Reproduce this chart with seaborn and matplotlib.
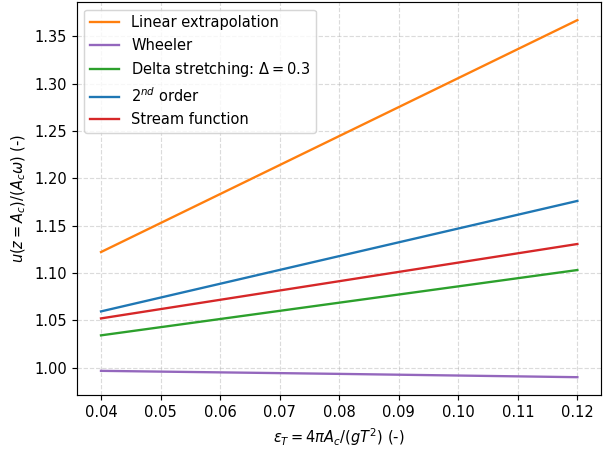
import matplotlib
matplotlib.use("Agg")
import matplotlib.pyplot as plt
import seaborn as sns
import pandas as pd

eps = [0.04, 0.08, 0.12]
linear_extrap = [1.122, 1.2445, 1.367]
wheeler = [0.9965, 0.9933, 0.9898]
delta_stretch = [1.034, 1.0685, 1.103]
second_order = [1.0593, 1.1177, 1.176]
stream_function = [1.0519, 1.0912, 1.1305]

labels = ["Linear extrapolation", "Wheeler", r"Delta stretching: $\Delta = 0.3$",
          r"2$^{nd}$ order", "Stream function"]
series = [linear_extrap, wheeler, delta_stretch, second_order, stream_function]
colors = ["#ff7f0e", "#9467bd", "#2ca02c", "#1f77b4", "#d62728"]

rows = []
for lab, vals in zip(labels, series):
    for x, v in zip(eps, vals):
        rows.append({"eps": x, "u": v, "method": lab})
df = pd.DataFrame(rows)

DPI = 105
fig, ax = plt.subplots(figsize=(603 / DPI, 452 / DPI), dpi=DPI)
sns.lineplot(data=df, x="eps", y="u", hue="method", hue_order=labels,
             palette=dict(zip(labels, colors)), ax=ax, linewidth=1.6)
ax.grid(True, linestyle="--", color="#b0b0b0", alpha=0.45)
ax.set_axisbelow(True)
ax.set_xticks([0.04, 0.05, 0.06, 0.07, 0.08, 0.09, 0.10, 0.11, 0.12])
ax.set_yticks([1.00, 1.05, 1.10, 1.15, 1.20, 1.25, 1.30, 1.35])
ax.set_xlabel(r"$\varepsilon_T = 4\pi A_c/(gT^2)$ (-)")
ax.set_ylabel(r"$u(z=A_c)/(A_c\omega)$ (-)")
ax.legend(loc="upper left", title=None)
fig.subplots_adjust(left=0.128, right=0.997, top=0.995, bottom=0.126)
fig.savefig("out.png", dpi=DPI)
